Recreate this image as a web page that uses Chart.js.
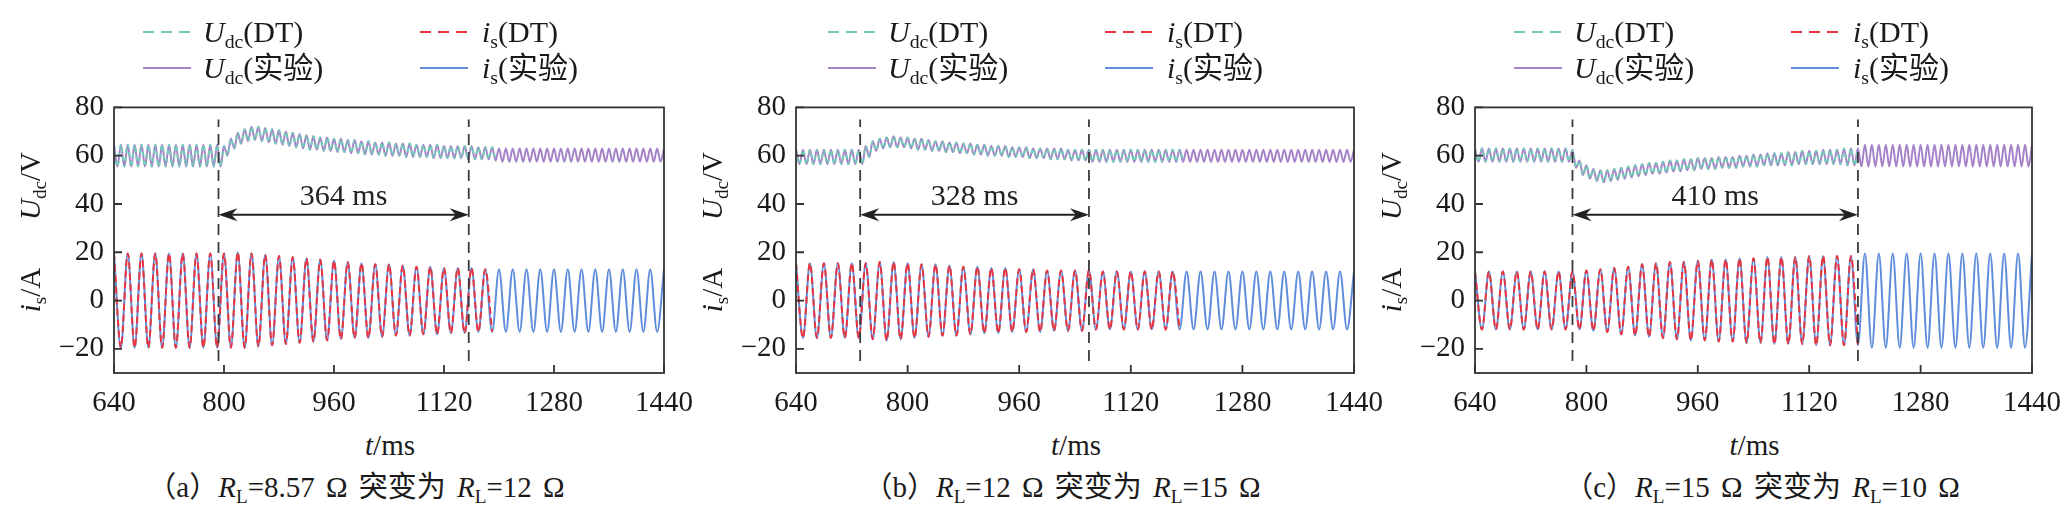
<!DOCTYPE html>
<html>
<head>
<meta charset="utf-8">
<script src="https://cdn.jsdelivr.net/npm/chart.js@4.4.1/dist/chart.umd.min.js"></script>
<style>
body { margin: 0; width: 2069px; height: 530px; background: #fff; position: relative; overflow: hidden;
  font-family: "Liberation Serif", "Times New Roman", "Noto Sans CJK SC", serif; color: #1a1a1a; }
canvas { position: absolute; }
.txt { position: absolute; white-space: nowrap; line-height: 1; }
.sb { font-size: 0.66em; position: relative; top: 0.32em; }
.smp { position: absolute; height: 2px; width: 48px; }
.rot { transform: translate(-50%, -50%) rotate(-90deg); }
.ctr { transform: translate(-50%, -50%); }
.cap { word-spacing: 4px; }
</style>
</head>
<body>
<script>
// time axis: a peak or trough every 10 ms (troughs of Udc sit half way)
const tStart = 640, tStep = 10;
const xTicks = [640, 800, 960, 1120, 1280, 1440];
const yTicks = [-20, 0, 20, 40, 60, 80];

// (a) RL = 8.57 -> 12 ohm
const udcHiA = [64.5,64.5,64.5,64.5,64.5,64.5,64.5,64.5,64.5,64.5,64.5,64.5,64.5,64.5,64.5,64.5,
  64,67,69.5,71,72,72,71.5,71,70.5,70,69.5,69,68.5,68,67.5,67.5,67,67,66.5,66.5,
  66,66,65.5,65.5,65.5,65,65,65,64.5,64.5,64.5,64.5,64,64,64,64,64,63.5,63.5,63.5,63,
  63,63,63,63,63,63,63,63,63,63,63,63,63,63,63,63,63,63,63,63,63,63,63,63];
const udcLoA = [55.5,55.5,55.5,55.5,55.5,55.5,55.5,55.5,55.5,55.5,55.5,55.5,55.5,55.5,55.5,55.5,
  60,63,65,66,66.5,66,65.5,65,64.5,64,63.5,63,62.5,62.5,62,62,61.5,61.5,61,61,
  60.5,60.5,60.5,60,60,60,59.5,59.5,59.5,59.5,59,59,59,59,59,58.5,58.5,58.5,58.5,58,
  57.5,57.5,57.5,57.5,57.5,57.5,57.5,57.5,57.5,57.5,57.5,57.5,57.5,57.5,57.5,57.5,57.5,57.5,57.5,57.5,57.5,57.5,57.5,57.5];
const isA = [19.5,-19.5,19.5,-19.5,19.5,-19.5,19.5,-19.5,19.5,-19.5,19.5,-19.5,19.5,-19.5,19.5,-19.5,19.5,-19.5,
  20,-19.5,19.5,-19,19,-18.5,18.5,-18,18,-17.5,17.5,-17,17,-16.5,16.5,-16,16,-15.5,15.5,-15.5,
  15,-15,15,-14.5,14.5,-14.5,14,-14,14,-14,13.5,-13.5,13.5,-13.5,13.5,-13,13,
  -13,13,-13,13,-13,13,-13,13,-13,13,-13,13,-13,13,-13,13,-13,13,-13,13,-13,13,-13,13,-13,13];
const eventsA = [792, 1156];

// (b) RL = 12 -> 15 ohm
const udcHiB = [62.5,62.5,62.5,62.5,62.5,62.5,62.5,62.5,62.5,62.5,
  64,66,67,67.5,68,67.5,67.5,67,67,66.5,66,66,65.5,65.5,65,65,64.5,64.5,64,64,
  64,63.5,63.5,63.5,63,63,63,63,63,62.5,62.5,62.5,62.5,
  62.5,62.5,62.5,62.5,62.5,62.5,62.5,62.5,62.5,62.5,62.5,62.5,62.5,62.5,62.5,62.5,62.5,62.5,62.5,
  62.5,62.5,62.5,62.5,62.5,62.5,62.5,62.5,62.5,62.5,62.5,62.5,62.5,62.5,62.5,62.5,62.5,62.5,62.5];
const udcLoB = [56.5,56.5,56.5,56.5,56.5,56.5,56.5,56.5,56.5,56.5,
  59.5,62,63,63.5,63.5,63.5,63,62.5,62.5,62,62,61.5,61.5,61,61,60.5,60.5,60,60,60,
  59.5,59.5,59.5,59,59,59,58.5,58.5,58.5,58,58,58,
  57.5,57.5,57.5,57.5,57.5,57.5,57.5,57.5,57.5,57.5,57.5,57.5,57.5,57.5,57.5,57.5,57.5,57.5,57.5,
  57.5,57.5,57.5,57.5,57.5,57.5,57.5,57.5,57.5,57.5,57.5,57.5,57.5,57.5,57.5,57.5,57.5,57.5,57.5];
const isB = [15.5,-15.5,15.5,-15.5,15.5,-15.5,15.5,-15.5,15.5,-15.5,
  15.5,-16,16,-16.5,16,-16,15.5,-15.5,15,-15,15,-14.5,14.5,-14.5,14,-14,14,-13.5,13.5,-13.5,
  13.5,-13,13,-13,13,-13,12.5,-12.5,12.5,-12.5,12.5,-12.5,12.5,
  -12,12,-12,12,-12,12,-12,12,-12,12,-12,12,-12,12,-12,12,-12,12,-12,12,
  -12,12,-12,12,-12,12,-12,12,-12,12,-12,12,-12,12,-12,12,-12,12];
const eventsB = [732, 1060];

// (c) RL = 15 -> 10 ohm
const udcHiC = [63,63,63,63,63,63,63,63,63,63,63,63,63,63,
  62.5,58,56,54.5,54,54,54.5,55,55.5,56,56.5,57,57,57.5,58,58,58.5,58.5,59,59,
  59,59.5,59.5,59.5,60,60,60.5,60.5,61,61,61,61.5,61.5,62,62,62,62.5,62.5,62.5,63,63,63,
  64.5,64.5,64.5,64.5,64.5,64.5,64.5,64.5,64.5,64.5,64.5,64.5,64.5,64.5,64.5,64.5,64.5,64.5,64.5,64.5,64.5,64.5,64.5,64.5,64.5];
const udcLoC = [57.5,57.5,57.5,57.5,57.5,57.5,57.5,57.5,57.5,57.5,57.5,57.5,57.5,57.5,
  55,52,50.5,49.5,49,49.5,50,50.5,51,51.5,52,52.5,52.5,53,53.5,53.5,54,54,54.5,54.5,
  54.5,55,55,55,55.5,55.5,55.5,56,56,56,56,56,56.5,56.5,56.5,56.5,56.5,56.5,56.5,56,56,
  55.5,55.5,55.5,55.5,55.5,55.5,55.5,55.5,55.5,55.5,55.5,55.5,55.5,55.5,55.5,55.5,55.5,55.5,55.5,55.5,55.5,55.5,55.5,55.5,55.5];
const isC = [12,-12,12,-12,12,-12,12,-12,12,-12,12,-12,12,-12,
  12,-12,12.5,-12.5,13,-13,13.5,-14,14,-14.5,15,-15,15.5,-15.5,16,-16,16,-16.5,16.5,-16.5,
  17,-17,17,-17,17.5,-17.5,17.5,-17.5,18,-18,18,-18,18,-18,18.5,-18.5,18.5,-18.5,18.5,-18.5,18.5,-18.5,
  19.5,-19.5,19.5,-19.5,19.5,-19.5,19.5,-19.5,19.5,-19.5,19.5,-19.5,19.5,-19.5,19.5,-19.5,
  19.5,-19.5,19.5,-19.5,19.5,-19.5,19.5,-19.5,19.5];
const eventsC = [780, 1190];

const dtEnd = [1195, 1195, 1190];          // the DT traces stop here
const spanLabels = ['364 ms', '328 ms', '410 ms'];
const markRange = [-25, 75];               // dashed event lines
const arrowLevel = 35.5, spanLabelLevel = 43;

const colors = { udcDT: '#72cbb9', udcExp: '#a583c8', isDT: '#e8343f', isExp: '#5f8ddb' };

// page layout
const panels = [
  { hi: udcHiA, lo: udcLoA, is: isA, ev: eventsA, plotL: 114, plotR: 666, legX: 0, titleX: 30, capX: 356,
    cap: '（a）<i>R</i><span class="sb">L</span>=8.57 Ω 突变为 <i>R</i><span class="sb">L</span>=12 Ω' },
  { hi: udcHiB, lo: udcLoB, is: isB, ev: eventsB, plotL: 796, plotR: 1356, legX: 685, titleX: 712, capX: 1062,
    cap: '（b）<i>R</i><span class="sb">L</span>=12 Ω 突变为 <i>R</i><span class="sb">L</span>=15 Ω' },
  { hi: udcHiC, lo: udcLoC, is: isC, ev: eventsC, plotL: 1475, plotR: 2034, legX: 1371, titleX: 1391, capX: 1762,
    cap: '（c）<i>R</i><span class="sb">L</span>=15 Ω 突变为 <i>R</i><span class="sb">L</span>=10 Ω' }
];
const yAxisW = 114, canvasTop = 80, padTop = 20, padRight = 40, xAxisH = 50, canvasH = 343;
const FONT = '"Liberation Serif", "Times New Roman", serif';

function udcPoints(hi, lo) {
  const pts = [];
  hi.forEach((v, k) => {
    pts.push({ x: tStart + k * tStep, y: v });
    if (k < lo.length) pts.push({ x: tStart + k * tStep + tStep / 2, y: lo[k] });
  });
  return pts;
}
function isPoints(vals) {
  return vals.map((v, k) => ({ x: tStart + k * tStep, y: v }));
}

function addText(html, x, y, size, cls) {
  const d = document.createElement('div');
  d.className = 'txt ' + (cls || '');
  d.style.left = x + 'px';
  d.style.top = y + 'px';
  d.style.fontSize = size + 'px';
  d.innerHTML = html;
  document.body.appendChild(d);
  return d;
}
function addSample(x, y, color, dashed) {
  const d = document.createElement('div');
  d.className = 'smp';
  d.style.left = x + 'px';
  d.style.top = (y - 1) + 'px';
  d.style.background = dashed
    ? `repeating-linear-gradient(to right, ${color} 0 11px, transparent 11px 18px)`
    : color;
  document.body.appendChild(d);
}

const markPlugin = {
  id: 'marks',
  afterDatasetsDraw(chart, args, o) {
    const { ctx, chartArea: a, scales: { x, y } } = chart;
    ctx.save();
    ctx.strokeStyle = '#333';
    ctx.lineWidth = 1.8;
    ctx.strokeRect(a.left, a.top, a.right - a.left, a.bottom - a.top);
    ctx.beginPath();
    yTicks.forEach(v => { const p = y.getPixelForValue(v); ctx.moveTo(a.left, p); ctx.lineTo(a.left + 8, p); });
    xTicks.forEach(v => { const p = x.getPixelForValue(v); ctx.moveTo(p, a.bottom); ctx.lineTo(p, a.bottom - 8); });
    ctx.stroke();

    const x1 = x.getPixelForValue(o.events[0]);
    const x2 = x.getPixelForValue(o.events[1]);
    const py = y.getPixelForValue(arrowLevel);
    ctx.strokeStyle = '#222';
    ctx.fillStyle = '#222';
    ctx.lineWidth = 2;
    ctx.beginPath();
    ctx.moveTo(x1 + 8, py);
    ctx.lineTo(x2 - 8, py);
    ctx.stroke();
    [[x1, 1], [x2, -1]].forEach(([px, d]) => {
      ctx.beginPath();
      ctx.moveTo(px, py);
      ctx.lineTo(px + d * 19, py - 6.5);
      ctx.lineTo(px + d * 13, py);
      ctx.lineTo(px + d * 19, py + 6.5);
      ctx.closePath();
      ctx.fill();
    });
    ctx.font = '30px ' + FONT;
    ctx.textAlign = 'center';
    ctx.textBaseline = 'middle';
    ctx.fillText(o.label, (x1 + x2) / 2, y.getPixelForValue(spanLabelLevel));
    ctx.restore();
  }
};

panels.forEach((p, i) => {
  const cv = document.createElement('canvas');
  cv.width = p.plotR - p.plotL + yAxisW + padRight;
  cv.height = canvasH;
  cv.style.left = (p.plotL - yAxisW) + 'px';
  cv.style.top = canvasTop + 'px';
  document.body.appendChild(cv);

  const udc = udcPoints(p.hi, p.lo);
  const is = isPoints(p.is);
  const datasets = [];
  p.ev.forEach(t => datasets.push({
    data: [{ x: t, y: markRange[0] }, { x: t, y: markRange[1] }],
    borderColor: '#3a3a3a', borderWidth: 1.8, borderDash: [11, 7], pointRadius: 0, order: 0
  }));
  datasets.push({ label: 'Udc(DT)', data: udc.filter(d => d.x <= dtEnd[i]), borderColor: colors.udcDT,
    borderWidth: 2, borderDash: [4, 4], pointRadius: 0, cubicInterpolationMode: 'monotone', order: 1 });
  datasets.push({ label: 'is(DT)', data: is.filter(d => d.x <= dtEnd[i]), borderColor: colors.isDT,
    borderWidth: 2, borderDash: [7, 4], pointRadius: 0, cubicInterpolationMode: 'monotone', order: 1 });
  datasets.push({ label: 'Udc(实验)', data: udc, borderColor: colors.udcExp,
    borderWidth: 2, pointRadius: 0, cubicInterpolationMode: 'monotone', order: 2 });
  datasets.push({ label: 'is(实验)', data: is, borderColor: colors.isExp,
    borderWidth: 2, pointRadius: 0, cubicInterpolationMode: 'monotone', order: 2 });

  new Chart(cv, {
    type: 'line',
    data: { datasets },
    options: {
      responsive: false,
      animation: false,
      layout: { padding: { top: padTop, right: padRight, left: 0, bottom: 0 } },
      plugins: { legend: { display: false }, tooltip: { enabled: false }, marks: { events: p.ev, label: spanLabels[i] } },
      scales: {
        x: {
          type: 'linear', min: 640, max: 1440,
          afterBuildTicks: s => { s.ticks = xTicks.map(v => ({ value: v })); },
          afterFit: s => { s.height = xAxisH; },
          grid: { display: false, drawTicks: false },
          border: { display: false },
          ticks: { font: { family: FONT, size: 29 }, color: '#1a1a1a', padding: 13, maxRotation: 0, autoSkip: false,
            callback: v => String(v) }
        },
        y: {
          min: -30, max: 80,
          afterBuildTicks: s => { s.ticks = yTicks.map(v => ({ value: v })); },
          afterFit: s => { s.width = yAxisW; },
          grid: { display: false, drawTicks: false },
          border: { display: false },
          ticks: { font: { family: FONT, size: 29 }, color: '#1a1a1a', padding: 10,
            callback: v => (v < 0 ? '\u2212' + Math.abs(v) : String(v)) }
        }
      }
    },
    plugins: [markPlugin]
  });

  // legend
  const L = p.legX;
  addSample(L + 143, 32, colors.udcDT, true);
  addText('<i>U</i><span class="sb">dc</span>(DT)', L + 203, 17, 30);
  addSample(L + 420, 32, colors.isDT, true);
  addText('<i>i</i><span class="sb">s</span>(DT)', L + 482, 17, 30);
  addSample(L + 143, 68, colors.udcExp, false);
  addText('<i>U</i><span class="sb">dc</span>(实验)', L + 203, 53, 30);
  addSample(L + 420, 68, colors.isExp, false);
  addText('<i>i</i><span class="sb">s</span>(实验)', L + 482, 53, 30);

  // axis titles and caption
  addText('<i>U</i><span class="sb">dc</span>/V', p.titleX, 186, 29, 'rot');
  addText('<i>i</i><span class="sb">s</span>/A', p.titleX, 290, 29, 'rot');
  addText('<i>t</i>/ms', (p.plotL + p.plotR) / 2, 445, 29, 'ctr');
  addText(p.cap, p.capX, 487, 29, 'ctr cap');
});
</script>
</body>
</html>
